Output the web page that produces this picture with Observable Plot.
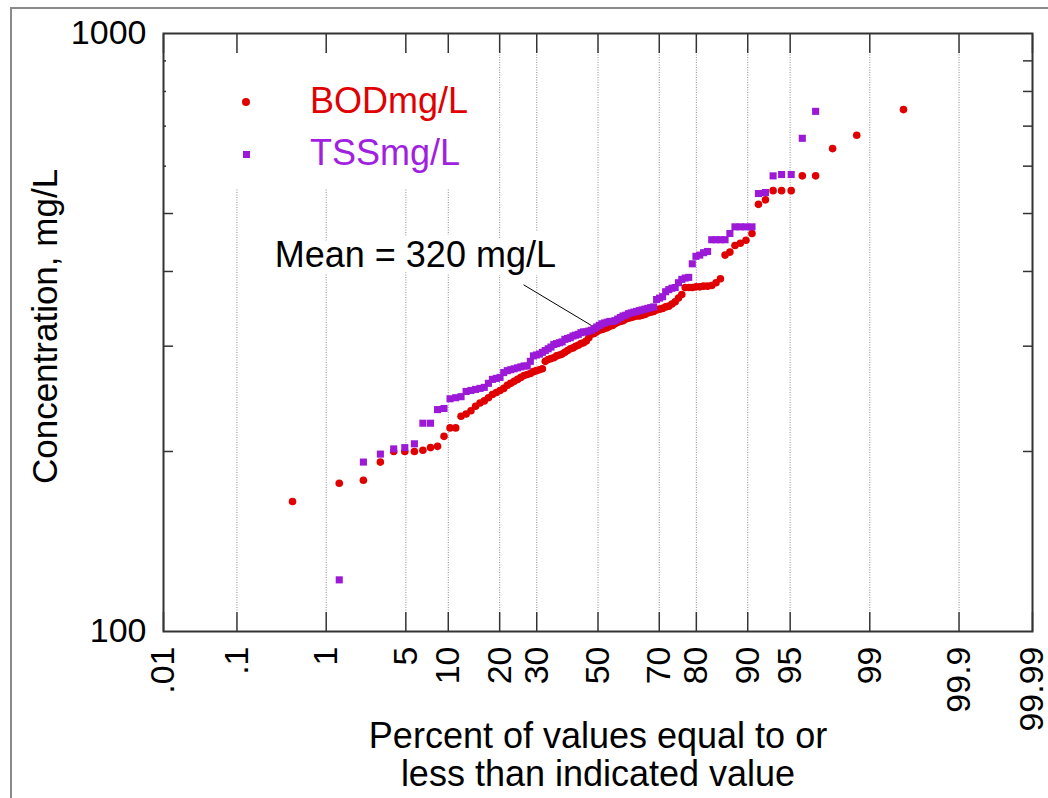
<!DOCTYPE html>
<html>
<head>
<meta charset="utf-8">
<script src="https://cdn.jsdelivr.net/npm/d3@7"></script>
<script src="https://cdn.jsdelivr.net/npm/@observablehq/plot@0.6"></script>
<style>
  body { margin: 0; background: #fff; font-family: "Liberation Sans", Arial, sans-serif; }
  #wrap { position: relative; width: 1048px; height: 798px; overflow: hidden; background: #fff; }
  #border { position: absolute; left: 10px; top: 7px; width: 2000px; height: 2000px;
            border-left: 2px solid #8a8a8a; border-top: 2px solid #8a8a8a; }
  #chart { position: absolute; left: 0; top: 0; }
  #legend { position: absolute; left: 166px; top: 54px; width: 312px; height: 134px; background: #fff; }
  .lg-text { position: absolute; left: 144px; font-size: 36px; line-height: 36px; white-space: nowrap; }
  .lg-dot { position: absolute; left: 76px; top: 44px; width: 8px; height: 8px; border-radius: 50%; }
  .lg-sq { position: absolute; left: 77px; top: 96.5px; width: 7px; height: 7px; }
</style>
</head>
<body>
<div id="wrap">
  <div id="border"></div>
  <div id="chart"></div>
  <div id="legend"></div>
</div>
<script>
// ---- Data (ranked concentrations, mg/L; null = off the plotted range) ----
const bodValues = [
  165,177,179,192,200,200,200,201,203,204,
  212,219,219,229,231,234,238,241,243,246,
  249,251,253,255,258,260,262,264,266,268,
  269,270,272,273,274,275,283,285,286,287,
  289,290,291,293,295,297,298,300,301,303,
  304,306,310,314,315,317,319,320,321,322,
  324,325,327,329,330,331,333,334,335,336,
  337,337,338,339,341,342,343,345,346,347,
  349,350,353,356,361,366,376,376,376,377,
  377,378,378,379,383,389,426,431,442,446,
  451,463,518,527,546,546,546,578,578,642,676,746
];
const tssValues = [
  null,122,192,198,202,203,206,223,223,235,
  236,245,246,247,252,253,254,255,256,260,
  264,265,266,271,273,274,275,276,277,278,
  278,283,289,290,291,293,295,297,299,302,
  303,304,305,308,309,310,312,313,314,316,
  317,317,318,319,321,323,325,327,328,329,
  330,330,331,333,335,337,338,340,341,342,
  343,344,345,346,347,348,349,359,361,363,
  370,373,375,376,383,388,390,391,412,424,
  426,430,432,452,452,452,452,463,475,475,
  475,475,540,542,578,581,581,668,741,null,null,null
];
const seriesNames = ["BODmg/L", "TSSmg/L"];
const seriesColors = ["#e00000", "#9b19d7"];
const legendTextColors = ["#e00000", "#a01fe0"];

const xTickPercents = [0.01, 0.1, 1, 5, 10, 20, 30, 50, 70, 80, 90, 95, 99, 99.9, 99.99];
const xTickLabels = [".01", ".1", "1", "5", "10", "20", "30", "50", "70", "80", "90", "95", "99", "99.9", "99.99"];
const yLabelTicks = [100, 1000];
const yMinorTicks = [200, 300, 400, 500, 600, 700, 800, 900];

const meanNote = { label: "Mean = 320 mg/L", labelPercent: 5.9, labelValue: 425,
                   fromPercent: 26.2, fromValue: 380, percent: 50, value: 320 };
const xTitle = "Percent of values equal to or\nless than indicated value";
const yTitle = "Concentration, mg/L";

// ---- Normal probability (probit) transform ----
function probit(p) {
  const a = [-3.969683028665376e+01, 2.209460984245205e+02, -2.759285104469687e+02, 1.383577518672690e+02, -3.066479806614716e+01, 2.506628277459239e+00];
  const b = [-5.447609879822406e+01, 1.615858368580409e+02, -1.556989798598866e+02, 6.680131188771972e+01, -1.328068155288572e+01];
  const c = [-7.784894002430293e-03, -3.223964580411365e-01, -2.400758277161838e+00, -2.549732539343734e+00, 4.374664141464968e+00, 2.938163982698783e+00];
  const d = [7.784695709041462e-03, 3.224671290700398e-01, 2.445134137142996e+00, 3.754408661907416e+00];
  const pl = 0.02425, ph = 1 - pl;
  let q, r;
  if (p < pl) {
    q = Math.sqrt(-2 * Math.log(p));
    return (((((c[0]*q+c[1])*q+c[2])*q+c[3])*q+c[4])*q+c[5]) / ((((d[0]*q+d[1])*q+d[2])*q+d[3])*q+1);
  }
  if (p > ph) {
    q = Math.sqrt(-2 * Math.log(1 - p));
    return -(((((c[0]*q+c[1])*q+c[2])*q+c[3])*q+c[4])*q+c[5]) / ((((d[0]*q+d[1])*q+d[2])*q+d[3])*q+1);
  }
  q = p - 0.5; r = q * q;
  return (((((a[0]*r+a[1])*r+a[2])*r+a[3])*r+a[4])*r+a[5])*q / (((((b[0]*r+b[1])*r+b[2])*r+b[3])*r+b[4])*r+1);
}
const zOfPercent = p => probit(p / 100);

// Ranked (Hazen) plotting positions
function ranked(values, name) {
  const n = values.length;
  return values.map((v, i) => ({ series: name, percent: (i + 0.5) / n * 100, value: v }))
               .filter(d => d.value != null);
}
const bod = ranked(bodValues, seriesNames[0]);
const tss = ranked(tssValues, seriesNames[1]);

const xTickPos = xTickPercents.map(zOfPercent);
const labelByZ = new Map(xTickPos.map((z, i) => [z.toFixed(6), xTickLabels[i]]));
const gridPos = xTickPos.slice(1, -1);

const font = "Liberation Sans, Arial, Helvetica, sans-serif";

const chart = Plot.plot({
  width: 1048,
  height: 798,
  marginLeft: 163,
  marginRight: 16,
  marginTop: 33,
  marginBottom: 167,
  style: { fontFamily: font, color: "#000", background: "transparent", overflow: "visible" },
  x: { type: "linear", domain: [zOfPercent(0.01), zOfPercent(99.99)], label: null },
  y: { type: "log", domain: [100, 1000], label: null },
  marks: [
    Plot.gridX(gridPos, { stroke: "#8c8c8c", strokeOpacity: 1, strokeWidth: 1, strokeDasharray: "1,1.5", insetTop: 19, insetBottom: 19 }),
    Plot.text([meanNote], {
      x: d => zOfPercent(d.labelPercent), y: d => d.labelValue, text: d => d.label,
      fontSize: 36, fill: "#000", stroke: "#fff", strokeWidth: 16, paintOrder: "stroke"
    }),
    Plot.link([meanNote], {
      x1: d => zOfPercent(d.fromPercent), y1: d => d.fromValue,
      x2: d => zOfPercent(d.percent), y2: d => d.value,
      stroke: "#000", strokeWidth: 1
    }),
    Plot.dot(bod, { x: d => zOfPercent(d.percent), y: "value", r: 3.8, fill: seriesColors[0], stroke: "none", clip: true }),
    Plot.dot(tss, { x: d => zOfPercent(d.percent), y: "value", r: 4, symbol: "square", fill: seriesColors[1], stroke: "none", clip: true }),
    // x tick labels (rotated)
    Plot.axisX({ anchor: "bottom", ticks: xTickPos, tickSize: 0, tickPadding: 15, tickRotate: -90,
                 tickFormat: d => labelByZ.get(d.toFixed(6)), fontSize: 34, label: null }),
    // inward tick marks, top & bottom
    Plot.axisX({ anchor: "bottom", ticks: xTickPos, tickSize: -19, tickFormat: () => "", label: null, stroke: "#333", strokeWidth: 1.5 }),
    Plot.axisX({ anchor: "top", ticks: xTickPos, tickSize: -19, tickFormat: () => "", label: null, stroke: "#333", strokeWidth: 1.5 }),
    // inward minor ticks, left & right
    Plot.axisY({ anchor: "left", ticks: yMinorTicks, tickSize: -10, tickFormat: () => "", label: null, stroke: "#333", strokeWidth: 1.5 }),
    Plot.axisY({ anchor: "right", ticks: yMinorTicks, tickSize: -10, tickFormat: () => "", label: null, stroke: "#333", strokeWidth: 1.5 }),
    // y labels 100 / 1000
    Plot.axisY({ anchor: "left", ticks: yLabelTicks, tickSize: 0, tickPadding: 17, tickFormat: d => String(d), fontSize: 34, label: null }),
    // axis titles
    Plot.text([yTitle], { frameAnchor: "left", textAnchor: "middle", rotate: -90, dx: -118, dy: -6, fontSize: 35, fill: "#000" }),
    Plot.text([xTitle], { frameAnchor: "bottom", dy: 90, lineAnchor: "top", lineHeight: 1.05, fontSize: 36, fill: "#000" }),
    Plot.frame({ stroke: "#333", strokeWidth: 2 })
  ]
});
document.getElementById("chart").appendChild(chart);

// ---- Legend (overlay inside the plot frame) ----
const legend = document.getElementById("legend");
seriesNames.forEach((name, i) => {
  const mk = document.createElement("div");
  mk.className = i === 0 ? "lg-dot" : "lg-sq";
  mk.style.background = seriesColors[i];
  legend.appendChild(mk);
  const tx = document.createElement("div");
  tx.className = "lg-text";
  tx.style.top = (i === 0 ? 28.5 : 80.5) + "px";
  tx.style.color = legendTextColors[i];
  tx.textContent = name;
  legend.appendChild(tx);
});
</script>
</body>
</html>
